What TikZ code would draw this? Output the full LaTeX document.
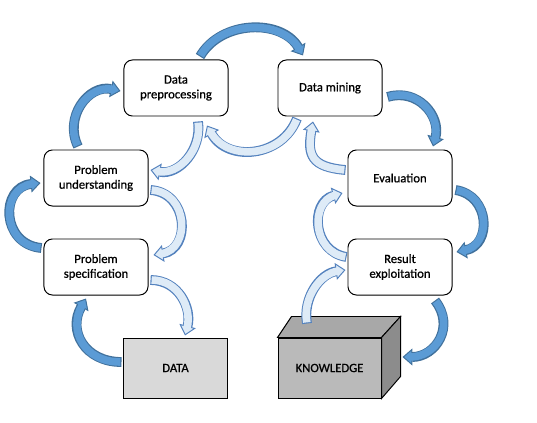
\documentclass[tikz,border=0pt]{standalone}
\usepackage{fontspec}
\setmainfont{Carlito}[UprightFeatures={FakeBold=0.8}]
\usetikzlibrary{arrows.meta,calc}

\definecolor{dkfill}{RGB}{91,155,213}
\definecolor{dkline}{RGB}{65,113,156}
\definecolor{ltfill}{RGB}{222,235,247}
\definecolor{ltline}{RGB}{84,130,190}
\definecolor{datagray}{RGB}{217,217,217}
\definecolor{kfront}{RGB}{186,186,186}
\definecolor{ktop}{RGB}{168,168,168}
\definecolor{kside}{RGB}{140,140,140}

\begin{document}
\begin{tikzpicture}[
    x=0.025cm, y=0.025cm,
    box/.style={rectangle, draw, rounded corners=6pt, align=center, minimum width=2.6cm, minimum height=1.4cm, fill=white, line width=0.7pt, font=\fontsize{9}{10.5}\selectfont},
    store/.style={rectangle, draw, align=center, minimum width=2.575cm, minimum height=1.5cm, line width=0.7pt, font=\fontsize{9}{10.5}\selectfont},
    darr/.style={line width=5.4pt, draw=dkfill, shorten >=5.5pt, shorten <=0.8pt,
        preaction={draw=dkline, line width=7pt, shorten >=0pt, shorten <=0pt,
            -{Triangle[width=12pt, length=7pt, fill=dkfill, line width=0.7pt]}}},
    larr/.style={line width=5.4pt, draw=ltfill, shorten >=5.5pt, shorten <=0.8pt,
        preaction={draw=ltline, line width=7pt, shorten >=0pt, shorten <=0pt,
            -{Triangle[width=12pt, length=7pt, fill=ltfill, line width=0.7pt]}}}
]
\useasboundingbox (0,0) rectangle (537,422);

% Process steps (left and right columns)
\node[box] (prep) at (176,334) {Data\\preprocessing};
\node[box] (mining) at (330,334) {Data mining};
\node[box] (under) at (96,244) {Problem\\understanding};
\node[box] (eval) at (400,244) {Evaluation};
\node[box] (spec) at (96,155) {Problem\\specification};
\node[box] (result) at (400,155) {Result\\exploitation};

% Input and output stores
\node[store, fill=datagray] (data) at (175.5,54) {DATA};
\node[store, fill=kfront] (know) at (329.5,54) {KNOWLEDGE};
\draw[line width=0.7pt, fill=ktop] (know.north west) -- ++(14,21) -- ($(know.north east)+(19,21)$) -- (know.north east) -- cycle;
\draw[line width=0.7pt, fill=kside] (know.north east) -- ++(19,21) -- ++(0,-60) -- (know.south east) -- cycle;

% Outer loop - forward steps
\draw[darr] ($(data.west)+(-2,6)$) to[out=180, in=-120, looseness=1.3] ($(spec.south)+(-10,-3)$);
\draw[darr] ($(spec.west)+(-2,19)$) to[out=175, in=186, looseness=1.6] ($(under.west)+(-3,-5)$);
\draw[darr] ($(under.north)+(-18,3)$) to[out=116, in=168, looseness=1.2] ($(prep.west)+(-3,-3)$);
\draw[darr] ($(prep.north)+(24,3)$) to[out=60, in=120, looseness=1.05] ($(mining.north)+(-27,4)$);
\draw[darr] ($(mining.east)+(5,-9)$) to[out=17, in=75, looseness=1.2] ($(eval.north)+(33,3)$);
\draw[darr] ($(eval.east)+(3,-12)$) to[out=-9, in=11, looseness=1.47] ($(result.east)+(4,15)$);
\draw[darr] ($(result.south)+(35,-5)$) to[out=-52, in=0, looseness=1.3] ($(know.east)+(21,11)$);

% Inner loop - feedback steps
\draw[larr] ($(spec.east)+(2,-13)$) to[out=0, in=75, looseness=1.1] ($(data.north)+(9.5,2)$);
\draw[larr] ($(under.east)+(2,-12)$) to[out=-4, in=9, looseness=1.5] ($(spec.east)+(5,12)$);
\draw[larr] ($(prep.south)+(22,-5)$) to[out=-82, in=-11, looseness=1.08] ($(under.east)+(2,8)$);
\draw[larr] ($(mining.south)+(-33,-2)$) to[out=-111, in=-61, looseness=1.19] ($(prep.south)+(31,-9)$);
\draw[larr] ($(eval.west)+(-2,8)$) to[out=175, in=-100, looseness=1.5] ($(mining.south)+(-17,-5)$);
\draw[larr] ($(result.west)+(-1,10)$) to[out=171, in=196, looseness=1.37] ($(eval.west)+(-5,-15)$);
\draw[larr] ($(know.north)+(-22.5,14)$) to[out=100, in=188, looseness=1.0] ($(result.west)+(-2,-3)$);

\end{tikzpicture}
\end{document}
